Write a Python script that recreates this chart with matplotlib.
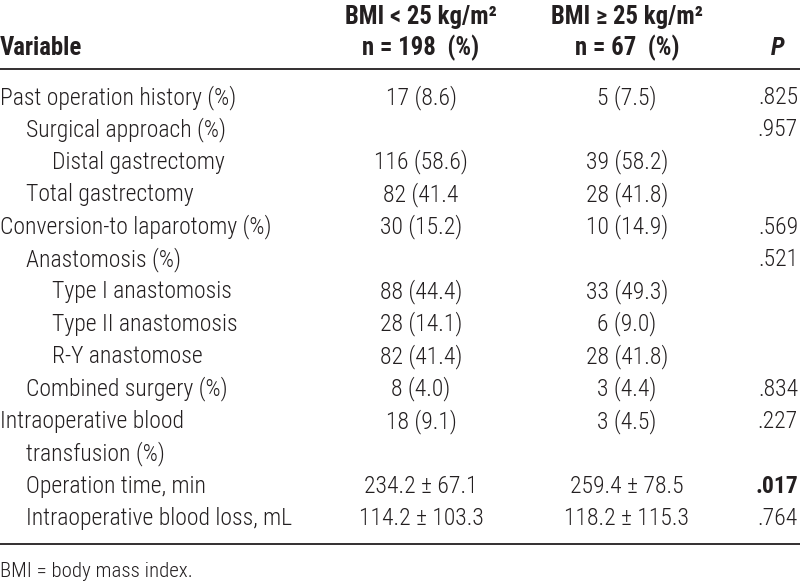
import matplotlib
matplotlib.use("Agg")
import matplotlib.pyplot as plt

# table content
labels = ["Past operation history (%)", "Surgical approach (%)", "Distal gastrectomy",
          "Total gastrectomy", "Conversion-to laparotomy (%)", "Anastomosis (%)",
          "Type I anastomosis", "Type II anastomosis", "R-Y anastomose",
          "Combined surgery (%)", "Intraoperative blood", "transfusion (%)",
          "Operation time, min", "Intraoperative blood loss, mL"]
indent = [0, 1, 2, 1, 0, 1, 2, 2, 2, 1, 0, 1, 1, 1]
bmi_low = ["17 (8.6)", "", "116 (58.6)", "82 (41.4", "30 (15.2)", "", "88 (44.4)",
           "28 (14.1)", "82 (41.4)", "8 (4.0)", "18 (9.1)", "", "234.2 \u00b1 67.1",
           "114.2 \u00b1 103.3"]
bmi_high = ["5 (7.5)", "", "39 (58.2)", "28 (41.8)", "10 (14.9)", "", "33 (49.3)",
            "6 (9.0)", "28 (41.8)", "3 (4.4)", "3 (4.5)", "", "259.4 \u00b1 78.5",
            "118.2 \u00b1 115.3"]
p_vals = [".825", ".957", "", "", ".569", ".521", "", "", "", ".834", ".227", "", ".017", ".764"]
p_bold = [False] * 12 + [True, False]
headers = ["BMI < 25 kg/m\u00b2\nn = 198  (%)",
           "BMI \u2265 25 kg/m\u00b2\nn = 67  (%)"]
footnote = "BMI = body mass index."

font = ["Roboto Condensed", "DejaVu Sans"]
ink = "#231f20"
fs = 17
fs_head = 17.8

fig = plt.figure(figsize=(8, 5.81), dpi=100)
ax = fig.add_axes([0, 0, 1, 1])
ax.set_xlim(0, 800)
ax.set_ylim(581, 0)
ax.axis("off")

x_col = [421, 627, 778]

# header
ax.text(0, 55, "Variable", fontsize=fs_head, fontweight="bold", family=font, color=ink, va="baseline")
for x, h in zip(x_col[:2], headers):
    top, bot = h.split("\n")
    ax.text(x, 24, top, fontsize=fs_head, fontweight="bold", family=font, color=ink, ha="center", va="baseline")
    ax.text(x, 55, bot, fontsize=fs_head, fontweight="bold", family=font, color=ink, ha="center", va="baseline")
ax.text(x_col[2], 55, "P", fontsize=fs_head, fontweight="bold", fontstyle="italic", family=font,
        color=ink, ha="center", va="baseline")

ax.plot([0, 800], [69, 69], color=ink, lw=1.3)

for i, lab in enumerate(labels):
    y = 104 + 32.4 * i
    ax.text(indent[i] * 26, y, lab, fontsize=fs, fontweight=300, family=font, color=ink, va="baseline")
    ax.text(x_col[0], y, bmi_low[i], fontsize=fs, fontweight=300, family=font, color=ink,
            ha="center", va="baseline")
    ax.text(x_col[1], y, bmi_high[i], fontsize=fs, fontweight=300, family=font, color=ink,
            ha="center", va="baseline")
    # P values are right aligned at the table edge
    ax.text(798, y, p_vals[i], fontsize=fs, family=font, color=ink, ha="right", va="baseline",
            fontweight="bold" if p_bold[i] else 300)

ax.plot([0, 800], [544, 544], color=ink, lw=1.3)
ax.text(0, 577, footnote, fontsize=15, fontweight=300, family=font, color=ink, va="baseline")

fig.savefig("out.png", dpi=100)
